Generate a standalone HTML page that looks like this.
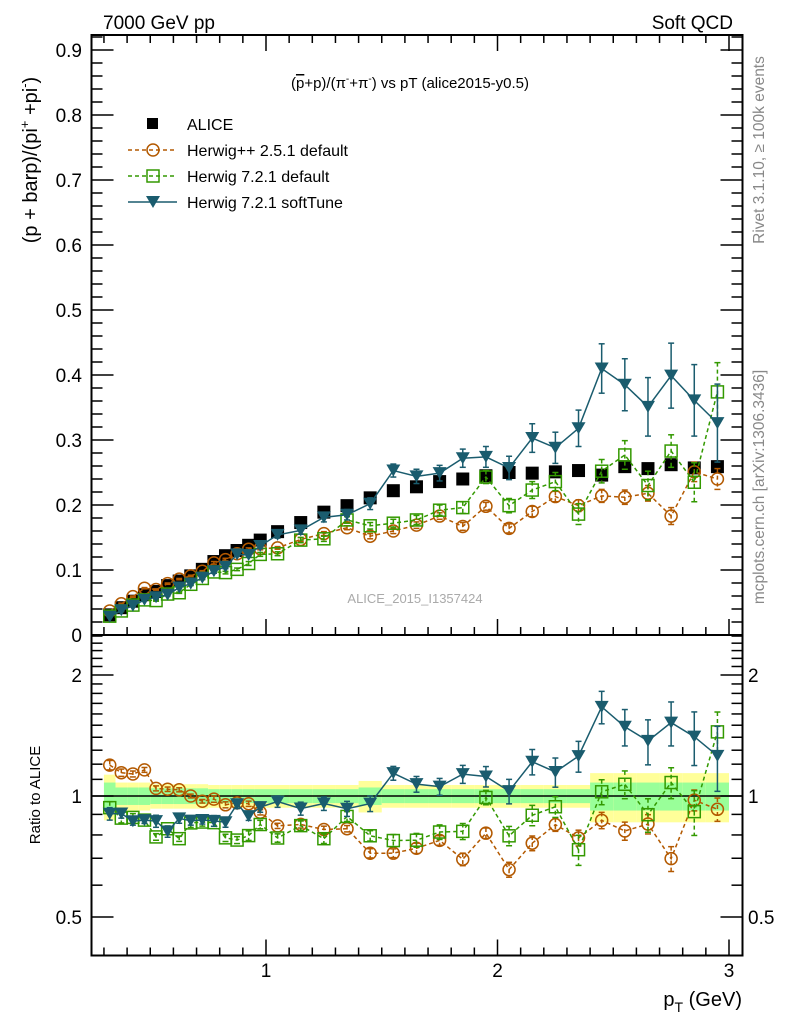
<!DOCTYPE html>
<html><head><meta charset="utf-8"><style>
html,body{margin:0;padding:0;background:#fff;}
svg text{font-family:"Liberation Sans",sans-serif;}
</style></head><body>
<svg id="chart" width="786" height="1024" xmlns="http://www.w3.org/2000/svg">
<text x="103" y="29" font-size="19">7000 GeV pp</text>
<text x="733" y="29" font-size="19" text-anchor="end">Soft QCD</text>
<text x="410" y="88" font-size="15" text-anchor="middle">(<tspan text-decoration="overline">p</tspan>+p)/(π<tspan dy="-6" font-size="10">-</tspan><tspan dy="6">+π</tspan><tspan dy="-6" font-size="10">-</tspan><tspan dy="6">) vs pT (alice2015-y0.5)</tspan></text>
<text transform="translate(37,160) rotate(-90)" font-size="20" text-anchor="middle">(p + barp)/(pi<tspan dy="-8" font-size="13">+</tspan><tspan dy="8"> +pi</tspan><tspan dy="-8" font-size="13">-</tspan><tspan dy="8">)</tspan></text>
<text transform="translate(40,795) rotate(-90)" font-size="15" text-anchor="middle">Ratio to ALICE</text>
<text transform="translate(764,150) rotate(-90)" font-size="15.5" fill="#888" text-anchor="middle">Rivet 3.1.10, ≥ 100k events</text>
<text transform="translate(764,487) rotate(-90)" font-size="15.5" fill="#888" text-anchor="middle">mcplots.cern.ch [arXiv:1306.3436]</text>
<text x="415" y="603" font-size="13" fill="#aaa" text-anchor="middle">ALICE_2015_I1357424</text>
<text x="742" y="1006" font-size="20" text-anchor="end">p<tspan dy="6" font-size="14">T</tspan><tspan dy="-6"> (GeV)</tspan></text>
<g id="g"></g>
</svg>
<script>
const xc = [0.325,0.375,0.425,0.475,0.525,0.575,0.625,0.675,0.725,0.775,0.825,0.875,0.925,0.975,1.05,1.15,1.25,1.35,1.45,1.55,1.65,1.75,1.85,1.95,2.05,2.15,2.25,2.35,2.45,2.55,2.65,2.75,2.85,2.95];
const xlo = [0.3,0.35,0.4,0.45,0.5,0.55,0.6,0.65,0.7,0.75,0.8,0.85,0.9,0.95,1.0,1.1,1.2,1.3,1.4,1.5,1.6,1.7,1.8,1.9,2.0,2.1,2.2,2.3,2.4,2.5,2.6,2.7,2.8,2.9];
const xhi = [0.35,0.4,0.45,0.5,0.55,0.6,0.65,0.7,0.75,0.8,0.85,0.9,0.95,1.0,1.1,1.2,1.3,1.4,1.5,1.6,1.7,1.8,1.9,2.0,2.1,2.2,2.3,2.4,2.5,2.6,2.7,2.8,2.9,3.0];
const alice = [0.031,0.042,0.052,0.062,0.067,0.076,0.083,0.091,0.101,0.113,0.122,0.130,0.138,0.146,0.159,0.173,0.189,0.199,0.211,0.222,0.228,0.236,0.240,0.245,0.250,0.249,0.251,0.253,0.246,0.259,0.256,0.262,0.257,0.259];
const aliceTotRel = [0.13,0.08,0.08,0.08,0.07,0.07,0.07,0.07,0.07,0.065,0.065,0.065,0.065,0.065,0.065,0.065,0.065,0.065,0.09,0.065,0.065,0.065,0.065,0.065,0.065,0.065,0.065,0.065,0.14,0.14,0.14,0.14,0.14,0.14];
const aliceStatRel = [0.08,0.05,0.05,0.05,0.045,0.045,0.045,0.045,0.045,0.04,0.04,0.04,0.04,0.04,0.04,0.04,0.04,0.04,0.05,0.04,0.04,0.04,0.04,0.04,0.04,0.04,0.04,0.04,0.08,0.08,0.08,0.08,0.08,0.08];
const hwpp = [0.037,0.048,0.059,0.072,0.070,0.079,0.086,0.091,0.098,0.111,0.116,0.125,0.132,0.133,0.134,0.147,0.156,0.165,0.152,0.160,0.169,0.183,0.167,0.198,0.164,0.190,0.213,0.199,0.214,0.212,0.218,0.183,0.251,0.240];
const hwppErr = [0.001,0.001,0.001,0.001,0.001,0.001,0.001,0.001,0.001,0.002,0.002,0.002,0.002,0.002,0.002,0.003,0.003,0.003,0.004,0.004,0.005,0.005,0.006,0.006,0.007,0.008,0.008,0.009,0.010,0.011,0.012,0.013,0.015,0.016];
const hw7 = [0.029,0.037,0.046,0.054,0.053,0.063,0.065,0.078,0.087,0.097,0.096,0.101,0.110,0.124,0.125,0.146,0.148,0.177,0.168,0.172,0.177,0.192,0.196,0.243,0.199,0.223,0.236,0.186,0.252,0.277,0.230,0.283,0.235,0.374];
const hw7Err = [0.001,0.001,0.001,0.001,0.001,0.001,0.001,0.002,0.002,0.002,0.002,0.002,0.003,0.003,0.003,0.004,0.004,0.005,0.005,0.006,0.007,0.008,0.009,0.010,0.011,0.013,0.014,0.016,0.018,0.022,0.022,0.025,0.030,0.045];
const hwst = [0.028,0.038,0.045,0.054,0.058,0.062,0.073,0.079,0.088,0.098,0.105,0.124,0.123,0.137,0.154,0.161,0.181,0.185,0.202,0.253,0.244,0.249,0.272,0.274,0.257,0.303,0.288,0.318,0.410,0.385,0.351,0.399,0.361,0.326];
const hwstErr = [0.001,0.001,0.001,0.001,0.002,0.002,0.002,0.002,0.002,0.003,0.003,0.003,0.003,0.004,0.005,0.006,0.007,0.008,0.009,0.010,0.011,0.012,0.014,0.016,0.018,0.022,0.024,0.028,0.038,0.040,0.045,0.050,0.055,0.060];
const yTicks = [0,0.1,0.2,0.3,0.4,0.5,0.6,0.7,0.8,0.9];
const yTickLabels = ["0","0.1","0.2","0.3","0.4","0.5","0.6","0.7","0.8","0.9"];
const rTicks = [0.5,1,2];
const rTickLabels = ["0.5","1","2"];
const xTicks = [1,2,3];
const xTickLabels = ["1","2","3"];

const L=91.5,R=742.5,T=35,MB=635,RB=955.5;
const X=v=>34.5+231.5*v;
const Y=v=>635-650*v;
const RY=v=>796-121*Math.log2(v);
const NS='http://www.w3.org/2000/svg';
const g=document.getElementById('g');
function mk(tag,attrs,parent){const e=document.createElementNS(NS,tag);for(const k in attrs)e.setAttribute(k,attrs[k]);(parent||g).appendChild(e);return e;}

const bands=mk('g',{});


xc.forEach((x,i)=>{
  const y1=mk('rect',{x:X(xlo[i]),width:X(xhi[i])-X(xlo[i]),y:RY(1+aliceTotRel[i]),height:RY(1-aliceTotRel[i])-RY(1+aliceTotRel[i]),fill:'#ffff99'},bands);
  
  
  const g1=mk('rect',{x:X(xlo[i]),width:X(xhi[i])-X(xlo[i]),y:RY(1+aliceStatRel[i]),height:RY(1-aliceStatRel[i])-RY(1+aliceStatRel[i]),fill:'#99ff99'},bands);
  
  
});
const one=mk('line',{x1:L,x2:R,y1:RY(1),y2:RY(1),stroke:'#000','stroke-width':1.5});



const axes=mk('g',{stroke:'#000','stroke-width':1.5});


for(let k=0;k<=46;k++){const v=k*0.02;const y=Y(v);if(y<T)break;const maj=k%5==0;const len=maj?22:11;
  mk('line',{x1:L,x2:L+len,y1:y,y2:y},axes);mk('line',{x1:R,x2:R-len,y1:y,y2:y},axes);}
yTicks.forEach((v,i)=>{const t=mk('text',{x:82,y:Y(v)+7,'font-size':19,'text-anchor':'end',stroke:'none'},axes);t.textContent=yTickLabels[i];
  
  });
const rmin=[0.4,0.5,0.6,0.7,0.8,0.9,1,1.1,1.2,1.3,1.4,1.5,1.6,1.7,1.8,1.9,2,2.1,2.2,2.3,2.4,2.5];
rmin.forEach(v=>{const y=RY(v);if(y<T+2||y>RB-2)return;const maj=(v==0.5||v==1||v==2);const len=maj?22:11;
  mk('line',{x1:L,x2:L+len,y1:y,y2:y},axes);mk('line',{x1:R,x2:R-len,y1:y,y2:y},axes);});
rTicks.forEach((v,i)=>{
  const t=mk('text',{x:82,y:RY(v)+7,'font-size':19,'text-anchor':'end',stroke:'none'},axes);t.textContent=rTickLabels[i];
  
  
  const t2=mk('text',{x:748,y:RY(v)+7,'font-size':19,stroke:'none'},axes);t2.textContent=rTickLabels[i];
  
  });
for(let k=3;k<=30;k++){const x=X(k/10);const maj=k%10==0;const len=maj?16:8;
  [MB,RB].forEach(b=>mk('line',{x1:x,x2:x,y1:b,y2:b-len},axes));
  mk('line',{x1:x,x2:x,y1:T,y2:T+len},axes);}
xTicks.forEach((v,i)=>{const t=mk('text',{x:X(v),y:977,'font-size':19,'text-anchor':'middle',stroke:'none'},axes);t.textContent=xTickLabels[i];
  
  });
const f1=mk('rect',{x:L,y:T,width:R-L,height:MB-T,fill:'none',stroke:'#000','stroke-width':2});


const f2=mk('rect',{x:L,y:MB,width:R-L,height:RB-MB,fill:'none',stroke:'#000','stroke-width':2});



function marker(p,type,x,y,col){
  if(type=='circle')mk('circle',{cx:x,cy:y,r:6,fill:'none',stroke:col,'stroke-width':1.5},p);
  else if(type=='square')mk('rect',{x:x-6,y:y-6,width:12,height:12,fill:'none',stroke:col,'stroke-width':1.5},p);
  else if(type=='tri')mk('path',{d:`M${x-7},${y-6}L${x+7},${y-6}L${x},${y+6}Z`,fill:col},p);
  else mk('rect',{x:x-6.5,y:y-6.5,width:13,height:13,fill:col},p);
}
function series(name,vals,errs,col,dash,type){
  [Y,RY].forEach((ys,pi)=>{
    const p=mk('g',{});
    
    
    const f=i=>pi?vals[i]/alice[i]:vals[i];
    const fe=i=>pi?errs[i]/alice[i]:errs[i];
    const pts=xc.map((x,i)=>X(x)+','+ys(f(i))).join(' ');
    const ln=mk('polyline',{points:pts,fill:'none',stroke:col,'stroke-width':1.5,'stroke-dasharray':dash},p);
    
    
    xc.forEach((x,i)=>{const y1=ys(f(i)+fe(i)),y2=ys(Math.max(f(i)-fe(i),0.01));
      mk('line',{x1:X(x),x2:X(x),y1:y1,y2:y2,stroke:col,'stroke-width':1.5,'stroke-dasharray':dash},p);
      mk('line',{x1:X(x)-3,x2:X(x)+3,y1:y1,y2:y1,stroke:col,'stroke-width':1.5},p);
      mk('line',{x1:X(x)-3,x2:X(x)+3,y1:y2,y2:y2,stroke:col,'stroke-width':1.5},p);
      marker(p,type,X(x),ys(f(i)),col);});
  });
}
const ap=mk('g',{});


xc.forEach((x,i)=>marker(ap,'fill',X(x),Y(alice[i]),'#000'));
series('herwigpp-2.5.1',hwpp,hwppErr,'#b35900','4,3','circle');
series('herwig-7.2.1-default',hw7,hw7Err,'#339900','4,3','square');
series('herwig-7.2.1-softtune',hwst,hwstErr,'#1a5c6e','','tri');

const lg=mk('g',{});


const entries=[['ALICE','#000','','fill'],['Herwig++ 2.5.1 default','#b35900','4,3','circle'],['Herwig 7.2.1 default','#339900','4,3','square'],['Herwig 7.2.1 softTune','#1a5c6e','','tri']];
entries.forEach((e,i)=>{const y=124+i*26;const eg=mk('g',{},lg);
  
  
  if(i>0)mk('line',{x1:128,x2:177,y1:y,y2:y,stroke:e[1],'stroke-width':1.5,'stroke-dasharray':e[2]},eg);
  if(i==0)mk('rect',{x:147,y:y-6,width:11,height:11,fill:'#000'},eg);else marker(eg,e[3],153,y,e[1]);
  const t=mk('text',{x:187,y:y+6,'font-size':16},eg);t.textContent=e[0];});
</script>
</body></html>
